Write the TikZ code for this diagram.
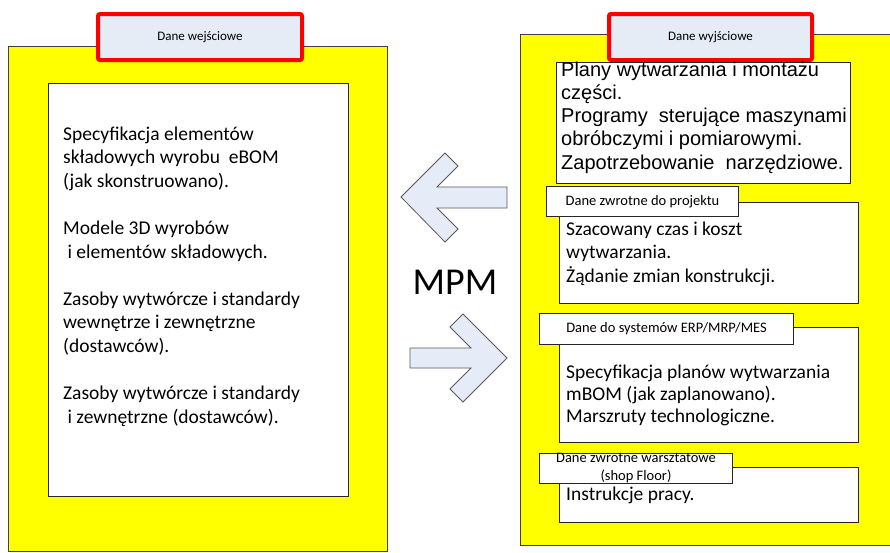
\documentclass[tikz,border=0pt]{standalone}
\usepackage{fontspec}
\setmainfont{Carlito}
\newfontfamily\arialfont{Liberation Sans}
\definecolor{panelyellow}{HTML}{FFFF00}
\definecolor{tabblue}{HTML}{E6ECF6}
\definecolor{arrowblue}{HTML}{E6ECF7}
\definecolor{edgegray}{HTML}{404040}
\definecolor{tabred}{HTML}{FF0000}
\tikzset{
  panel/.style={draw=edgegray, line width=1pt, fill=panelyellow},
  headtab/.style={draw=tabred, line width=4pt, rounded corners=2pt, fill=tabblue,
    font=\fontsize{13}{15}\selectfont, inner sep=0pt},
  whitebox/.style={draw=black!85, line width=1.2pt, fill=white},
  subtab/.style={draw=black!85, line width=1pt, fill=white, inner sep=0pt,
    font=\fontsize{14.5}{16}\selectfont, align=center},
  % anchored at the baseline of the last line
  bodytext/.style={anchor=base west, align=left, inner sep=0pt,
    font=\fontsize{19.5}{23.4}\selectfont},
  bigarrow/.style={draw=black!65, line width=0.8pt, fill=arrowblue, line join=miter}
}
\begin{document}
\begin{tikzpicture}[x=1pt,y=-1pt]
\useasboundingbox (0,0) rectangle (890,552);

% --- left panel: input data
\path[panel] (8,46) rectangle (387,551);
\node[headtab, minimum width=204pt, minimum height=46pt, anchor=north west]
  (intab) at (96,12) {Dane wejściowe};
\node[whitebox, minimum width=300pt, minimum height=413pt, anchor=north west]
  (inbox) at (48,83) {};
\node[bodytext] (in1) at (63,187) {Specyfikacja elementów\\składowych wyrobu\ \ eBOM\\(jak skonstruowano).};
\node[bodytext] (in2) at (63,258) {Modele 3D wyrobów\\\ i elementów składowych.};
\node[bodytext] (in3) at (63,352) {Zasoby wytwórcze i standardy\\wewnętrze i zewnętrzne\\(dostawców).};
\node[bodytext] (in4) at (63,423) {Zasoby wytwórcze i standardy\\\ i zewnętrzne (dostawców).};

% --- right panel: output data
\path[panel] (520,34) rectangle (895,545);
\node[headtab, minimum width=203pt, minimum height=46pt, anchor=north west]
  (outtab) at (607,12) {Dane wyjściowe};

\node[whitebox, minimum width=294pt, minimum height=121pt, anchor=north west]
  (plans) at (556,62) {};
\node[bodytext, font=\arialfont\fontsize{20}{23.2}\selectfont] (planstext) at (561,169)
  {Plany wytwarzania i montażu\\części.\\Programy\ \ sterujące maszynami\\obróbczymi i pomiarowymi.\\Zapotrzebowanie\ \ narzędziowe.};

\node[whitebox, minimum width=299pt, minimum height=101pt, anchor=north west]
  (fbbox) at (559,202) {};
\node[subtab, minimum width=192pt, minimum height=30pt, anchor=north west]
  (fbtab) at (546,186) {Dane zwrotne do projektu};
\node[bodytext] (fbtext) at (566,282) {Szacowany czas i koszt\\wytwarzania.\\Żądanie zmian konstrukcji.};

\node[whitebox, minimum width=299pt, minimum height=115pt, anchor=north west]
  (erpbox) at (559,327) {};
\node[subtab, minimum width=254pt, minimum height=31pt, anchor=north west]
  (erptab) at (539,313) {Dane do systemów ERP/MRP/MES};
\node[bodytext, font=\fontsize{19.5}{22}\selectfont] (erptext) at (566,422)
  {Specyfikacja planów wytwarzania\\mBOM (jak zaplanowano).\\Marszruty technologiczne.};

\node[whitebox, minimum width=299pt, minimum height=55pt, anchor=north west]
  (shopbox) at (559,467) {};
\node[subtab, minimum width=193pt, minimum height=30pt, anchor=north west,
  font=\fontsize{14.5}{18}\selectfont]
  (shoptab) at (539,453) {Dane zwrotne warsztatowe\\(shop Floor)};
\node[bodytext] (shoptext) at (566,500) {Instrukcje pracy.};

% --- MPM label with the two block arrows
\node[font=\fontsize{38}{42}\selectfont, inner sep=0pt] (mpm) at (455,282) {MPM};
\path[bigarrow] (401,197) -- (445,153) -- (458,166) -- (437,187) -- (507,187)
  -- (507,208) -- (437,208) -- (458,229) -- (445,242) -- cycle;
\path[bigarrow] (507,358) -- (463,314) -- (450,327) -- (471,348) -- (410,348)
  -- (410,368) -- (471,368) -- (450,389) -- (463,402) -- cycle;
\end{tikzpicture}
\end{document}
